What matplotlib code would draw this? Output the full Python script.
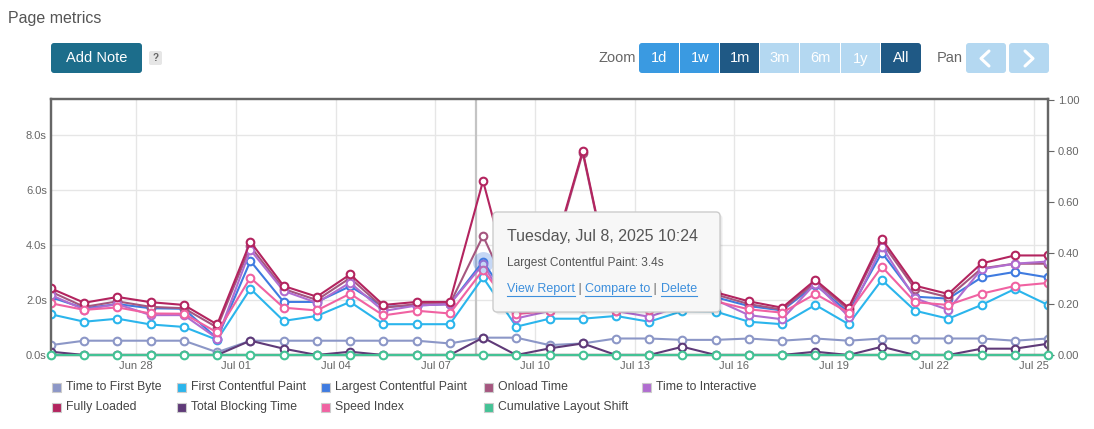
import pandas as pd
import matplotlib
matplotlib.use("Agg")
import matplotlib.pyplot as plt
from matplotlib.patches import FancyBboxPatch, Rectangle
from matplotlib.ticker import FixedLocator, FuncFormatter
import matplotlib.dates as mdates

plt.rcParams['font.family'] = ['Liberation Sans', 'DejaVu Sans']

# one test run per day, always at 10:24
dates = pd.date_range("2025-06-25 10:24", periods=31, freq="D")

# values in seconds (left axis)
ttfb = [0.36, 0.52, 0.52, 0.52, 0.52, 0.10, 0.52, 0.52, 0.52, 0.52, 0.52,
        0.52, 0.42, 0.63, 0.63, 0.36, 0.42, 0.60, 0.60, 0.55, 0.55, 0.60,
        0.52, 0.60, 0.52, 0.60, 0.60, 0.60, 0.60, 0.52, 0.60]
fcp = [1.48, 1.21, 1.32, 1.11, 1.02, 0.55, 2.41, 1.24, 1.42, 1.93, 1.12,
       1.12, 1.12, 2.82, 1.03, 1.32, 1.32, 1.42, 1.21, 1.60, 1.58, 1.21,
       1.12, 1.82, 1.12, 2.73, 1.61, 1.32, 1.82, 2.40, 1.82]
lcp = [2.10, 1.70, 1.85, 1.70, 1.68, 0.60, 3.42, 1.93, 1.93, 2.50, 1.75,
       1.80, 1.85, 3.40, 1.60, 1.70, 1.80, 1.65, 1.80, 1.95, 2.10, 1.78,
       1.62, 2.55, 1.55, 3.72, 2.12, 2.05, 2.82, 3.02, 2.82]
onload = [2.30, 1.75, 1.95, 1.75, 1.70, 1.00, 3.95, 2.40, 2.00, 2.80, 1.72,
          1.85, 1.85, 4.33, 1.70, 3.15, 7.35, 1.70, 1.85, 2.00, 2.20, 1.85,
          1.65, 2.65, 1.65, 4.10, 2.40, 2.10, 3.15, 3.32, 3.32]
tti = [2.18, 1.65, 1.85, 1.45, 1.45, 0.60, 3.82, 2.33, 1.90, 2.63, 1.60,
       1.80, 1.85, 3.30, 1.33, 1.60, 1.75, 1.60, 1.39, 1.80, 2.00, 1.45,
       1.30, 2.60, 1.40, 3.94, 2.06, 1.64, 3.12, 3.32, 3.40]
fully = [2.42, 1.90, 2.11, 1.92, 1.82, 1.11, 4.12, 2.51, 2.12, 2.93, 1.82,
         1.93, 1.93, 6.33, 1.80, 3.25, 7.42, 1.75, 1.90, 2.10, 2.28, 1.95,
         1.72, 2.73, 1.72, 4.22, 2.52, 2.22, 3.33, 3.62, 3.62]
tbt = [0.12, 0.00, 0.00, 0.00, 0.00, 0.00, 0.52, 0.23, 0.00, 0.12, 0.00,
       0.00, 0.00, 0.63, 0.00, 0.24, 0.42, 0.00, 0.00, 0.30, 0.00, 0.00,
       0.00, 0.12, 0.00, 0.30, 0.00, 0.00, 0.23, 0.23, 0.41]
speed = [1.88, 1.64, 1.73, 1.51, 1.50, 0.82, 2.81, 1.72, 1.62, 2.23, 1.44,
         1.61, 1.51, 3.09, 1.49, 1.60, 1.70, 1.60, 1.65, 1.80, 1.95, 1.66,
         1.54, 2.22, 1.54, 3.21, 1.92, 1.82, 2.23, 2.51, 2.62]
# unitless score (right axis)
cls = [0.0] * 31

names = ["Time to First Byte", "First Contentful Paint", "Largest Contentful Paint",
         "Onload Time", "Time to Interactive", "Fully Loaded", "Total Blocking Time",
         "Speed Index", "Cumulative Layout Shift"]
colors = ["#8c97c7", "#2bb5ec", "#3f7be0", "#a5567f", "#b06dd0",
          "#b3245f", "#5f3a78", "#f062a2", "#44c295"]
values = [ttfb, fcp, lcp, onload, tti, fully, tbt, speed, cls]

hover_idx = 13  # Jul 8 point under the mouse

fig = plt.figure(figsize=(10.94, 4.29), dpi=100)
W, H = 1094, 429
ax = fig.add_axes([51 / W, 1 - 355 / H, 997 / W, 256 / H])

# Plot the seconds-based series
for name, v, c in zip(names[:-1], values[:-1], colors[:-1]):
    ax.plot(dates, v, color=c, lw=1.5, marker="o", ms=5.5, mfc="white",
            mec=c, mew=1.5, zorder=3, solid_joinstyle="round")

# hover halo + crosshair
ax.plot(dates[hover_idx], lcp[hover_idx], "o", ms=15, color=colors[2],
        alpha=0.3, mec="none", zorder=4)
ax.axvline(pd.Timestamp("2025-07-08 05:15"), color="#c4c4c4", lw=1.6, zorder=1)

ax.set_xlim(dates[0], dates[-1])
ax.set_ylim(0, 256 / 27.5)
xt = pd.date_range("2025-06-28", "2025-07-25", freq="3D")
ax.xaxis.set_major_locator(FixedLocator(mdates.date2num(xt)))
ax.xaxis.set_major_formatter(mdates.DateFormatter("%b %d"))
ax.yaxis.set_major_locator(FixedLocator([0, 2, 4, 6, 8]))
ax.yaxis.set_major_formatter(FuncFormatter(lambda v, p: "%.1fs" % v))
ax.grid(True, color="#e6e6e6", lw=1, zorder=0)
ax.set_axisbelow(True)
ax.tick_params(axis="both", length=0, labelsize=8, labelcolor="#666666")
ax.tick_params(axis="x", pad=4)
ax.tick_params(axis="y", pad=3)
for s in ax.spines.values():
    s.set_color("#666666")
    s.set_linewidth(1.6)

# CLS on the right axis
ax2 = ax.twinx()
ax2.plot(dates, cls, color=colors[-1], lw=1.5, marker="o", ms=5.5, mfc="white",
         mec=colors[-1], mew=1.5, zorder=3, clip_on=False)
ax2.set_ylim(0, 256 / 255)
ax2.yaxis.set_major_locator(FixedLocator([0, 0.2, 0.4, 0.6, 0.8, 1.0]))
ax2.yaxis.set_major_formatter(FuncFormatter(lambda v, p: "%.2f" % v))
ax2.tick_params(axis="y", length=4, color="#666666", labelsize=8,
                labelcolor="#666666", pad=3)
for s in ax2.spines.values():
    s.set_color("#666666")
    s.set_linewidth(1.6)

# overlay in pixel coordinates for the page UI
ov = fig.add_axes([0, 0, 1, 1])
ov.set_xlim(0, W)
ov.set_ylim(H, 0)
ov.axis("off")

ov.text(8, 18, "Page metrics", fontsize=11.5, color="#555555", va="center")

ov.add_patch(FancyBboxPatch((51, 43), 91, 30, boxstyle="round,pad=0,rounding_size=3",
                            fc="#1c6d8b", ec="none"))
ov.text(96.5, 58, "Add Note", fontsize=10.5, color="white", ha="center", va="center")
ov.add_patch(FancyBboxPatch((149, 51), 13, 14, boxstyle="round,pad=0,rounding_size=2",
                            fc="#e6e6e6", ec="none"))
ov.text(155.5, 58, "?", fontsize=7, color="#666666", ha="center", va="center",
        fontweight="bold")

# zoom buttons
zoom_labels = ["1d", "1w", "1m", "3m", "6m", "1y", "All"]
zoom_edges = [639, 680, 720, 760, 800, 841, 881, 922]
zoom_cols = ["#3a9ae1", "#3a9ae1", "#1f5985", "#b4d8f1", "#b4d8f1", "#b4d8f1", "#1f5985"]
ov.text(636, 58, "Zoom", fontsize=10.5, color="#666666", ha="right", va="center")
for i, (lab, col) in enumerate(zip(zoom_labels, zoom_cols)):
    x0, x1 = zoom_edges[i], zoom_edges[i + 1]
    if i == 0 or i == len(zoom_labels) - 1:
        ov.add_patch(FancyBboxPatch((x0, 43), x1 - x0 - 1, 30,
                                    boxstyle="round,pad=0,rounding_size=3",
                                    fc=col, ec="none"))
        sx = x0 + (x1 - x0) / 2 if i == 0 else x0
        ov.add_patch(Rectangle((sx, 43), (x1 - x0) / 2 - 1, 30, fc=col, ec="none"))
    else:
        ov.add_patch(Rectangle((x0, 43), x1 - x0 - 1, 30, fc=col, ec="none"))
    ov.text((x0 + x1) / 2, 58.5, lab, fontsize=10.5, color="white",
            ha="center", va="center")

ov.text(937, 58, "Pan", fontsize=10.5, color="#666666", ha="left", va="center")
for bx, pts in [(966, [(989, 51), (981, 58.5), (989, 66)]),
                (1009, [(1025, 51), (1033, 58.5), (1025, 66)])]:
    ov.add_patch(FancyBboxPatch((bx, 43), 40, 30, boxstyle="round,pad=0,rounding_size=3",
                                fc="#b4d8f1", ec="none"))
    ov.plot([p[0] for p in pts], [p[1] for p in pts], color="white", lw=2.2,
            solid_capstyle="round")

# legend
leg_x = [52, 177, 321, 484, 642]
leg_y = [387, 407]
for i, (name, c) in enumerate(zip(names, colors)):
    if i < 5:
        x, y = leg_x[i], leg_y[0]
    else:
        x, y = leg_x[i - 5], leg_y[1]
    ov.add_patch(Rectangle((x, y - 4.5), 9, 9, fc=c, ec="#cccccc", lw=0.8))
    ov.text(x + 14, y, name, fontsize=8.8, color="#444444", va="center")

# tooltip
for k in range(1, 4):
    ov.add_patch(FancyBboxPatch((493 + k, 212 + k), 227, 100,
                                boxstyle="round,pad=0,rounding_size=4",
                                fc="black", ec="none", alpha=0.04))
ov.add_patch(FancyBboxPatch((493, 212), 227, 100, boxstyle="round,pad=0,rounding_size=4",
                            fc="#f7f7f7", ec="#cccccc", lw=1))
ov.text(507, 236, "Tuesday, Jul 8, 2025 10:24", fontsize=11.5, color="#555555",
        va="center")
ov.text(507, 263, "Largest Contentful Paint: %.1fs" % lcp[hover_idx], fontsize=8.6,
        color="#555555", va="center")

fig.canvas.draw()
rend = fig.canvas.get_renderer()
inv = ov.transData.inverted()
x = 507
for part, is_link in [("View Report", True), (" | ", False), ("Compare to", True),
                      (" | ", False), ("Delete", True)]:
    t = ov.text(x, 289, part, fontsize=9, color="#3d8fdc" if is_link else "#666666",
                va="center")
    bb = t.get_window_extent(renderer=rend)
    (x0, _), (x1, _) = inv.transform([[bb.x0, bb.y0], [bb.x1, bb.y1]])
    if is_link:
        ov.plot([x0, x1], [296, 296], color="#3d8fdc", lw=0.8)
    x = x1

fig.savefig("out.png", dpi=100)
